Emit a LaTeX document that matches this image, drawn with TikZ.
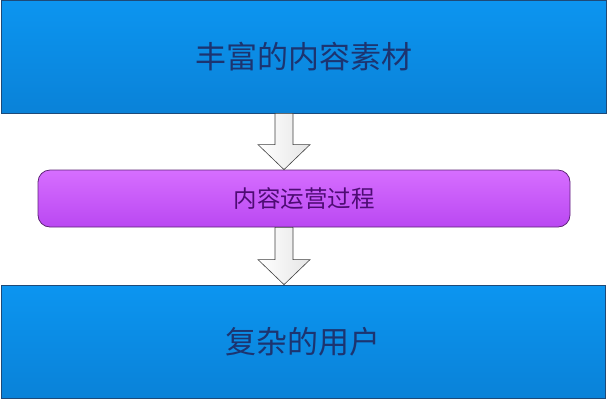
\documentclass[tikz,border=0pt]{standalone}
\usepackage{fontspec}
\newfontfamily\cjk{Noto Sans CJK SC}
\usetikzlibrary{positioning, calc}
\definecolor{boxtop}{HTML}{0C95F0}
\definecolor{boxbot}{HTML}{0A82D8}
\definecolor{boxline}{HTML}{1E4A78}
\definecolor{boxtext}{HTML}{1C3470}
\definecolor{proctop}{HTML}{D66EFF}
\definecolor{procbot}{HTML}{BA48F2}
\definecolor{procline}{HTML}{5E2478}
\definecolor{proctext}{HTML}{4E0C74}
\tikzset{
  bluebox/.style={
    draw=boxline, line width=0.8pt, top color=boxtop, bottom color=boxbot,
    text=boxtext, font=\cjk\fontsize{31}{31}\selectfont
  },
  procbox/.style={
    draw=procline, line width=0.8pt, rounded corners=12pt,
    top color=proctop, bottom color=procbot,
    text=proctext, font=\cjk\fontsize{23.5}{24}\selectfont
  },
  blockarrow/.style={
    draw=black!75, left color=white, right color=white!90!black,
    line width=0.6pt, line join=miter
  }
}
\newcommand{\downarrowfrom}[2]{%
  \draw[blockarrow] ($(#1)+(-9,0)$) -- ($(#1)+(9,0)$)
    -- ($(#2)+(9,-25)$) -- ($(#2)+(26,-25)$) -- (#2)
    -- ($(#2)+(-26,-25)$) -- ($(#2)+(-9,-25)$) -- cycle;
}

\begin{document}
\begin{tikzpicture}[x=1pt, y=-1pt]
  \useasboundingbox (0,0) rectangle (609,400);

  \node[bluebox, minimum width=605pt, minimum height=113pt] (material) at (303.5,56.5) {丰富的内容素材};
  \node[procbox, minimum width=532pt, minimum height=57pt] (process) at (304,198.5) {内容运营过程};
  \node[bluebox, minimum width=604pt, minimum height=113pt] (users) at (303,341.5) {复杂的用户};

  % arrow ends
  \coordinate (a1) at (284,0 |- material.south);
  \coordinate (b1) at (284,0 |- process.north);
  \coordinate (a2) at (284,0 |- process.south);
  \coordinate (b2) at (284,0 |- users.north);

  \downarrowfrom{a1}{b1}
  \downarrowfrom{a2}{b2}
\end{tikzpicture}
\end{document}
